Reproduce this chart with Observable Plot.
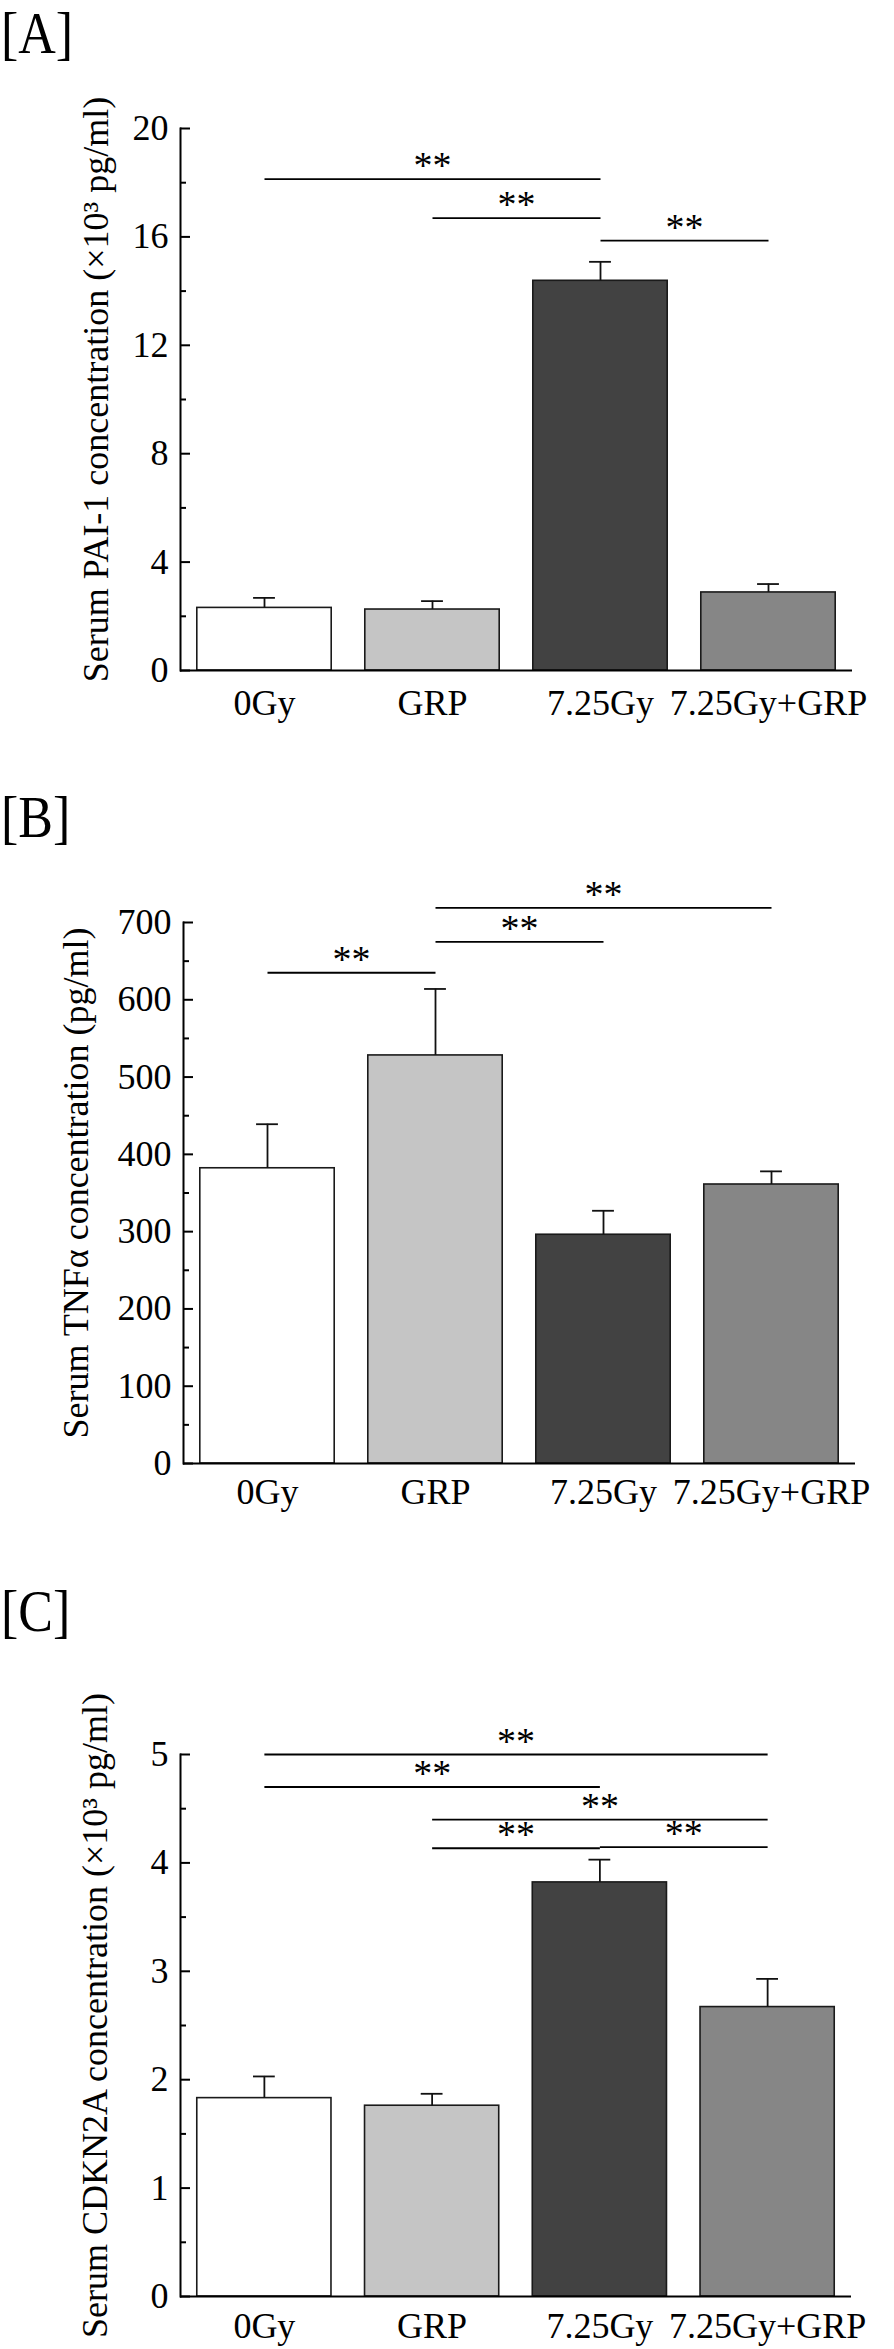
<!DOCTYPE html>
<html>
<head>
<meta charset="utf-8">
<script src="https://cdn.jsdelivr.net/npm/d3@7"></script>
<script src="https://cdn.jsdelivr.net/npm/@observablehq/plot@0.6"></script>
<style>
  html, body { margin: 0; padding: 0; background: #fff; }
  #root { position: relative; width: 894px; height: 2349px; overflow: hidden; background: #fff;
          font-family: "Liberation Serif", "Times New Roman", serif; }
  .panel { position: absolute; left: 0; width: 894px; }
  .tag { position: absolute; left: 1px; font-size: 52px; line-height: 1; white-space: nowrap;
         transform: scaleY(1.15); transform-origin: 0 0; color: #000; }
</style>
</head>
<body>
<div id="root"></div>
<script>
// ---- data ----
const groups = ["0Gy", "GRP", "7.25Gy", "7.25Gy+GRP"];
const fills = ["#ffffff", "#c5c5c5", "#424242", "#868686"];

// [A] Serum PAI-1 (x10^3 pg/ml)
const paiMean = [2.31, 2.25, 14.38, 2.88];
const paiErr  = [0.37, 0.31, 0.70, 0.31];
const paiMajorTicks = [0, 4, 8, 12, 16, 20];
const paiMinorTicks = [2, 6, 10, 14, 18];
const paiSig = [
  {from: "0Gy", to: "7.25Gy", y: 18.13},
  {from: "GRP", to: "7.25Gy", y: 16.69},
  {from: "7.25Gy", to: "7.25Gy+GRP", y: 15.86}
];

// [B] Serum TNFα (pg/ml)
const tnfMean = [382, 528, 296, 361];
const tnfErr  = [57, 86, 31, 17];
const tnfMajorTicks = [0, 100, 200, 300, 400, 500, 600, 700];
const tnfMinorTicks = [50, 150, 250, 350, 450, 550, 650];
const tnfSig = [
  {from: "0Gy", to: "GRP", y: 635},
  {from: "GRP", to: "7.25Gy", y: 675},
  {from: "GRP", to: "7.25Gy+GRP", y: 719}
];

// [C] Serum CDKN2A (x10^3 pg/ml)
const cdkMean = [1.83, 1.76, 3.82, 2.67];
const cdkErr  = [0.20, 0.11, 0.21, 0.26];
const cdkMajorTicks = [0, 1, 2, 3, 4, 5];
const cdkMinorTicks = [0.5, 1.5, 2.5, 3.5, 4.5];
const cdkSig = [
  {from: "0Gy", to: "7.25Gy+GRP", y: 5.0},
  {from: "0Gy", to: "7.25Gy", y: 4.70},
  {from: "GRP", to: "7.25Gy+GRP", y: 4.40},
  {from: "GRP", to: "7.25Gy", y: 4.135},
  {from: "7.25Gy", to: "7.25Gy+GRP", y: 4.145}
];

const FONT = '"Liberation Serif", "Times New Roman", serif';

function makePanel(cfg) {
  const rows = groups.map((g, i) => ({
    i, g, mean: cfg.means[i], upper: cfg.means[i] + cfg.errs[i], fill: fills[i]
  }));
  const sigRows = cfg.sig.map(s => ({a: groups.indexOf(s.from), b: groups.indexOf(s.to), y: s.y}));
  const frameW = 894 - cfg.marginLeft - cfg.marginRight;
  return Plot.plot({
    width: 894,
    height: cfg.height,
    marginTop: cfg.marginTop,
    marginBottom: cfg.marginBottom,
    marginLeft: cfg.marginLeft,
    marginRight: cfg.marginRight,
    style: {fontFamily: FONT, fontSize: "36px", background: "transparent", overflow: "visible", color: "#000"},
    x: {type: "linear", domain: [-0.5, groups.length - 0.5], axis: null},
    y: {domain: [0, cfg.yMax], axis: null},
    color: {type: "identity"},
    marks: [
      Plot.rect(rows, {x1: d => d.i - 0.4, x2: d => d.i + 0.4, y1: 0, y2: "mean",
                       fill: "fill", stroke: "#1a1a1a", strokeWidth: 1.6}),
      Plot.ruleX(rows, {x: "i", y1: "mean", y2: "upper", stroke: "#111", strokeWidth: 1.8}),
      Plot.ruleY(rows, {y: "upper", x1: d => d.i - 0.065, x2: d => d.i + 0.065, stroke: "#111", strokeWidth: 1.8}),
      Plot.tickY(cfg.minorTicks, {y: d => d, insetRight: frameW - 6, stroke: "#000", strokeWidth: 2}),
      Plot.tickY(cfg.majorTicks, {y: d => d, insetRight: frameW - 10, stroke: "#000", strokeWidth: 2}),
      Plot.frame({anchor: "left", stroke: "#000", strokeWidth: 2}),
      Plot.ruleY([0], {stroke: "#000", strokeWidth: 2}),
      Plot.axisY({ticks: cfg.majorTicks, tickSize: 0, tickPadding: 12, tickFormat: d => String(d),
                  label: null, fontSize: 36}),
      Plot.axisX({ticks: groups.map((_, i) => i), tickSize: 0, tickPadding: cfg.xPad,
                  tickFormat: i => groups[i], label: null, fontSize: 36}),
      Plot.link(sigRows, {x1: "a", x2: "b", y1: "y", y2: "y", stroke: "#000", strokeWidth: 1.8}),
      Plot.text(sigRows, {x: d => (d.a + d.b) / 2, y: "y", text: () => "**", lineAnchor: "bottom",
                          dy: -1, fontSize: 38, fill: "#000"}),
      Plot.text([cfg.title], {frameAnchor: "left", text: d => d, rotate: -90, dx: cfg.titleDx, dy: -10,
                              lineAnchor: "bottom", textAnchor: "middle", fontSize: 36, fill: "#000"})
    ]
  });
}

const panels = [
  {tag: "[A]", tagTop: 4, top: 0, height: 770, marginTop: 128, marginBottom: 100, marginLeft: 180, marginRight: 42,
   yMax: 20, majorTicks: paiMajorTicks, minorTicks: paiMinorTicks, means: paiMean, errs: paiErr, sig: paiSig,
   title: "Serum PAI-1 concentration (×10³ pg/ml)", titleDx: -73, xPad: 19},
  {tag: "[B]", tagTop: 788, top: 770, height: 770, marginTop: 152, marginBottom: 77, marginLeft: 183, marginRight: 39,
   yMax: 700, majorTicks: tnfMajorTicks, minorTicks: tnfMinorTicks, means: tnfMean, errs: tnfErr, sig: tnfSig,
   title: "Serum TNFα concentration (pg/ml)", titleDx: -96, xPad: 15},
  {tag: "[C]", tagTop: 1582, top: 1540, height: 809, marginTop: 214, marginBottom: 53, marginLeft: 180, marginRight: 43,
   yMax: 5, majorTicks: cdkMajorTicks, minorTicks: cdkMinorTicks, means: cdkMean, errs: cdkErr, sig: cdkSig,
   title: "Serum CDKN2A concentration (×10³ pg/ml)", titleDx: -74, xPad: 16}
];

const root = document.getElementById("root");
for (const p of panels) {
  const div = document.createElement("div");
  div.className = "panel";
  div.style.top = p.top + "px";
  div.style.height = p.height + "px";
  div.appendChild(makePanel(p));
  root.appendChild(div);
  const tag = document.createElement("div");
  tag.className = "tag";
  tag.style.top = p.tagTop + "px";
  tag.textContent = p.tag;
  root.appendChild(tag);
}
</script>
</body>
</html>
